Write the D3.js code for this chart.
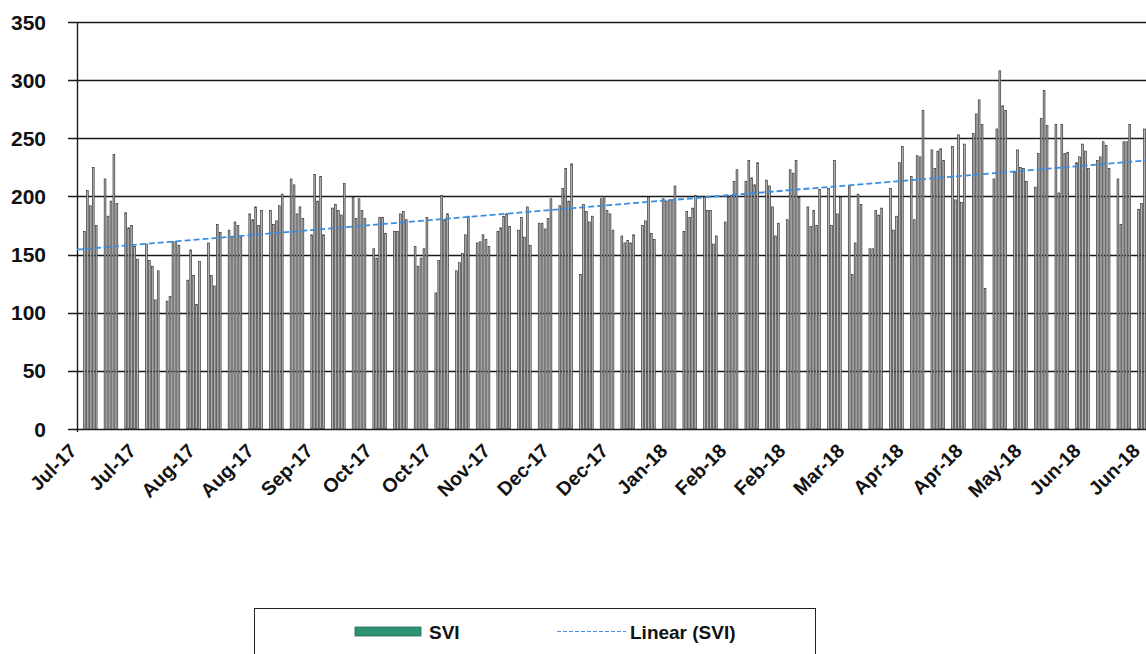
<!DOCTYPE html>
<html>
<head>
<meta charset="utf-8">
<script src="https://cdn.jsdelivr.net/npm/d3@7"></script>
<style>
  body { margin: 0; background: #fff; }
  svg { display: block; }
  .tick-label { font-family: "Liberation Sans", Arial, sans-serif; font-weight: bold; fill: #111; }
  .legend-label { font-family: "Liberation Sans Narrow", "Arial Narrow", "Liberation Sans", sans-serif; font-weight: bold; fill: #111; }
</style>
</head>
<body>
<svg id="chart"></svg>
<script>
const width = 1146;
const height = 654;

// weekday values, first value is Mon 3 Jul 2017, 5 per week, 13 weeks per array
const firstDay = "2017-07-03";
const sviQ3_2017 = [
  170, 205, 192, 225, 175,   215, 183, 196, 236, 194,   186, 173, 175, 157, 146,
  159, 145, 140, 111, 136,   110, 114, 161, 161, 158,   128, 154, 132, 107, 144,
  160, 132, 123, 176, 169,   171, 165, 178, 175, 165,   185, 180, 191, 175, 188,
  188, 176, 179, 192, 202,   215, 210, 185, 191, 181,   167, 219, 196, 217, 167,
  190, 193, 188, 184, 211
];
const sviQ4_2017 = [
  199, 181, 198, 188, 181,   155, 147, 182, 182, 168,   170, 170, 185, 187, 180,
  157, 140, 147, 155, 182,   117, 145, 201, 180, 185,   136, 143, 151, 167, 183,
  160, 161, 167, 163, 157,   170, 173, 183, 185, 174,   171, 182, 165, 191, 158,
  177, 177, 172, 181, 198,   192, 207, 224, 196, 228,   133, 193, 187, 178, 183,
  198, 200, 188, 185, 171
];
const sviQ1_2018 = [
  166, 160, 162, 160, 167,   175, 179, 199, 168, 163,   198, 196, 197, 197, 209,
  170, 187, 182, 190, 201,   199, 188, 188, 159, 166,   178, 199, 201, 213, 223,
  213, 231, 216, 210, 229,   214, 209, 191, 166, 177,   180, 223, 220, 231, 199,
  191, 174, 188, 175, 206,   207, 175, 231, 185, 199,   209, 133, 160, 202, 193,
  155, 155, 188, 184, 190
];
const sviQ2_2018 = [
  207, 171, 183, 229, 243,   217, 180, 235, 234, 274,   240, 224, 239, 241, 231,
  243, 197, 253, 195, 245,   254, 271, 283, 262, 121,   215, 258, 308, 278, 274,
  221, 240, 225, 224, 213,   208, 237, 267, 291, 261,   262, 203, 262, 237, 238,
  229, 234, 245, 239, 224,   231, 234, 247, 244, 224,   215, 176, 247, 247, 262,
  189, 194, 258, 227, 220
];

const axisStart = "2017-07-01";
const axisEnd = "2018-07-01";
const tickDates = [
  "2017-07-01", "2017-07-21", "2017-08-10", "2017-08-30", "2017-09-19",
  "2017-10-09", "2017-10-29", "2017-11-18", "2017-12-08", "2017-12-28",
  "2018-01-17", "2018-02-06", "2018-02-26", "2018-03-18", "2018-04-07",
  "2018-04-27", "2018-05-17", "2018-06-06", "2018-06-26"
];
const yTicks = [0, 50, 100, 150, 200, 250, 300, 350];

const parse = d3.timeParse("%Y-%m-%d");
const fmt = d3.timeFormat("%b-%y");

// weekdays only, weekends have no bar
const values = [...sviQ3_2017, ...sviQ4_2017, ...sviQ1_2018, ...sviQ2_2018];
const data = [];
let day = parse(firstDay);
values.forEach(v => {
  while (day.getDay() === 0 || day.getDay() === 6) day = d3.timeDay.offset(day, 1);
  data.push({ date: day, value: v });
  day = d3.timeDay.offset(day, 1);
});

const svg = d3.select("#chart")
  .attr("width", width)
  .attr("height", height);

const x = d3.scaleTime()
  .domain([parse(axisStart), parse(axisEnd)])
  .range([77, 77 + 365 * 2.953]);

const y = d3.scaleLinear()
  .domain([0, 350])
  .range([429, 22]);

const dayW = x(d3.timeDay.offset(parse(axisStart), 1)) - x(parse(axisStart));

// grid lines (also act as the y ticks)
svg.append("g")
  .selectAll("line")
  .data(yTicks)
  .join("line")
  .attr("x1", 68)
  .attr("x2", width + 10)
  .attr("y1", d => Math.round(y(d)) + 0.5)
  .attr("y2", d => Math.round(y(d)) + 0.5)
  .attr("stroke", "#1a1a1a")
  .attr("stroke-width", 1.4);

svg.append("g")
  .selectAll("text")
  .data(yTicks)
  .join("text")
  .attr("class", "tick-label")
  .attr("x", 46)
  .attr("y", d => y(d))
  .attr("dy", "0.36em")
  .attr("text-anchor", "end")
  .attr("font-size", "21px")
  .text(d => d);

// bars
svg.append("g")
  .selectAll("rect")
  .data(data)
  .join("rect")
  .attr("x", d => x(d.date) + dayW * 0.5 - 0.9)
  .attr("width", 1.8)
  .attr("y", d => y(d.value))
  .attr("height", d => y(0) - y(d.value))
  .attr("fill", "#b4b4b4")
  .attr("stroke", "#2e2e2e")
  .attr("stroke-width", 0.65);

// y axis line
svg.append("line")
  .attr("x1", 77.5).attr("x2", 77.5)
  .attr("y1", y(350)).attr("y2", y(0) + 3)
  .attr("stroke", "#1a1a1a")
  .attr("stroke-width", 1.4);

// linear trend (least squares on day number)
const t0 = parse(axisStart);
const pts = data.map(d => [d3.timeDay.count(t0, d.date) + 0.5, d.value]);
const mx = d3.mean(pts, p => p[0]);
const my = d3.mean(pts, p => p[1]);
const slope = d3.sum(pts, p => (p[0] - mx) * (p[1] - my)) / d3.sum(pts, p => (p[0] - mx) ** 2);
const icpt = my - slope * mx;
const trendDays = [0, 365];

svg.append("line")
  .attr("x1", x(d3.timeDay.offset(t0, trendDays[0])))
  .attr("x2", x(d3.timeDay.offset(t0, trendDays[1])))
  .attr("y1", y(icpt + slope * trendDays[0]))
  .attr("y2", y(icpt + slope * trendDays[1]))
  .attr("stroke", "#3a8de0")
  .attr("stroke-width", 1.8)
  .attr("stroke-dasharray", "6,3");

// x labels
svg.append("g")
  .selectAll("text")
  .data(tickDates.map(parse))
  .join("text")
  .attr("class", "tick-label")
  .attr("font-size", "19.5px")
  .attr("text-anchor", "end")
  .attr("transform", d => `translate(${x(d) + 1},${452}) rotate(-45)`)
  .text(d => fmt(d));

// legend
const legend = svg.append("g");
legend.append("rect")
  .attr("x", 254.5).attr("y", 608.5)
  .attr("width", 561).attr("height", 70)
  .attr("fill", "none")
  .attr("stroke", "#222")
  .attr("stroke-width", 1);
legend.append("rect")
  .attr("x", 355).attr("y", 627)
  .attr("width", 66).attr("height", 9)
  .attr("fill", "#2e9274")
  .attr("stroke", "#1f6b55")
  .attr("stroke-width", 0.8);
legend.append("text")
  .attr("class", "legend-label")
  .attr("x", 429).attr("y", 639)
  .attr("font-size", "19px")
  .text("SVI");
legend.append("line")
  .attr("x1", 557).attr("x2", 626)
  .attr("y1", 631.5).attr("y2", 631.5)
  .attr("stroke", "#4a90e2")
  .attr("stroke-width", 1)
  .attr("stroke-dasharray", "4,2");
legend.append("text")
  .attr("class", "legend-label")
  .attr("x", 630).attr("y", 639)
  .attr("font-size", "19px")
  .text("Linear (SVI)");
</script>
</body>
</html>
